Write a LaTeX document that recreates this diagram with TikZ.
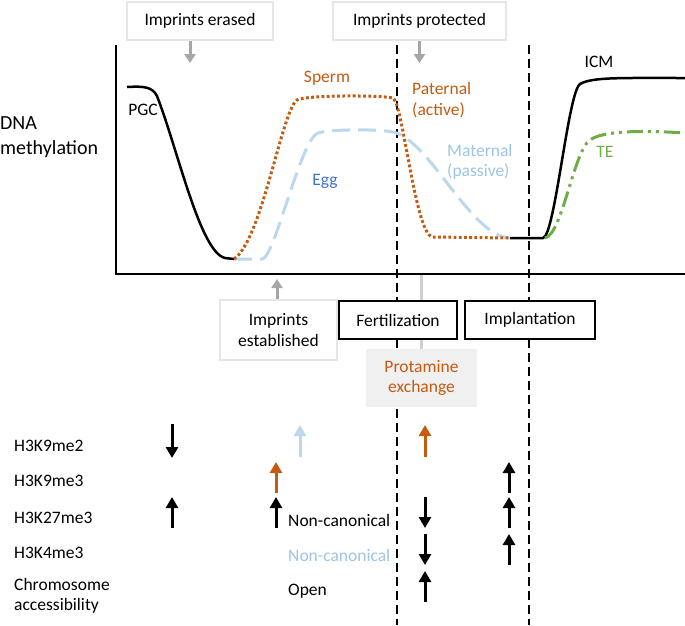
\documentclass[tikz,border=0pt]{standalone}
\usepackage{fontspec}
\setmainfont{Carlito}
\usetikzlibrary{arrows.meta,calc}
\definecolor{orng}{HTML}{C55A11}
\definecolor{lblue}{HTML}{BDD7EE}
\definecolor{mtext}{HTML}{9DC3E6}
\definecolor{eggblue}{HTML}{4472C4}
\definecolor{tegreen}{HTML}{70AD47}
\definecolor{boxgray}{HTML}{E6E6E6}
\definecolor{protfill}{HTML}{F0F0F0}
\definecolor{arrgray}{HTML}{A6A6A6}
\definecolor{linegray}{HTML}{D0D0D0}
\tikzset{
  lbl/.style={font=\fontsize{17.5}{20.5}\selectfont, inner sep=0pt},
  lightbox/.style={draw=boxgray, line width=2pt, fill=white, font=\fontsize{17.5}{20.5}\selectfont, align=center, inner sep=0pt},
  darkbox/.style={draw=black, line width=2.5pt, fill=white, font=\fontsize{17.5}{20.5}\selectfont, align=center, inner sep=0pt},
  grayarr/.style={arrgray, line width=3pt, -{Triangle[width=11pt,length=9pt]}},
  marr/.style={line width=3pt, -{Triangle[width=12pt,length=11pt]}},
  vdash/.style={line width=2.5pt, dash pattern=on 9pt off 5pt},
}
\begin{document}
\begin{tikzpicture}[x=1pt,y=-1pt]
\useasboundingbox (0,0) rectangle (685,625);
% axes
\coordinate (ytop) at (116,45);
\coordinate (orig) at (116,274);
\coordinate (xend) at (685,274);
\draw[line width=2.5pt] (ytop) -- (orig) -- (xend);
% vertical dashed lines
\coordinate (f1) at (397,45);
\coordinate (f2) at (397,625);
\coordinate (i1) at (529,45);
\coordinate (i2) at (529,625);
\draw[vdash] (f1) -- (f2);
\draw[vdash] (i1) -- (i2);
% boxes
\node[lightbox, minimum width=146pt, minimum height=38pt] (erased) at (200,21) {Imprints erased};
\node[lightbox, minimum width=173pt, minimum height=38pt] (protected) at (419.5,21) {Imprints protected};
\node[lightbox, minimum width=117pt, minimum height=60pt] (established) at (278.5,330) {Imprints\\established};
\node[fill=protfill, text=orng, minimum width=111pt, minimum height=58pt, font=\fontsize{17.5}{20.5}\selectfont, align=center, inner sep=0pt] (prot) at (421.5,378) {Protamine\\exchange};
\coordinate (protax) at (421.5,275);
\draw[linegray, line width=3pt] (protax) -- (prot.north);
\node[darkbox, minimum width=118pt, minimum height=38pt] (fert) at (398,320) {Fertilization};
\node[darkbox, minimum width=130pt, minimum height=38pt] (impl) at (530,320) {Implantation};
% gray arrows
\draw[grayarr] ([xshift=-10pt]erased.south) -- ++(0,22);
\draw[grayarr] (protected.south) -- ++(0,22);
\draw[grayarr] ([xshift=-1.5pt]established.north) -- ++(0,-20);
% curves
\draw[line width=2.5pt] (127,87) .. controls (145,86) and (152,87) .. (157,96)
  .. controls (178,150) and (200,252) .. (225,258) -- (234,259);
\draw[lblue, line width=3pt, dash pattern=on 18pt off 8pt] (234,259) -- (262,259)
  .. controls (275,258) and (300,140) .. (318,133)
  .. controls (330,129) and (380,129) .. (393,132)
  .. controls (430,140) and (470,236) .. (510,238);
\draw[orng, line width=3pt, dash pattern=on 2.8pt off 2.4pt] (234,259)
  .. controls (262,240) and (282,110) .. (297,100)
  .. controls (305,95) and (380,95) .. (393,98)
  .. controls (403,104) and (415,232) .. (432,237) -- (510,238);
\draw[line width=2.5pt] (510,238) -- (543,238)
  .. controls (555,236) and (568,92) .. (580,84)
  .. controls (592,77) and (620,78) .. (685,78);
\draw[tegreen, line width=3pt, dash pattern=on 16pt off 5pt on 3pt off 5pt on 3pt off 5pt] (545,238)
  .. controls (562,235) and (574,150) .. (590,140)
  .. controls (602,131) and (640,130) .. (685,133);
% curve labels
\node[font=\fontsize{20}{25}\selectfont, inner sep=0pt, anchor=west, align=left] (dna) at (0,137) {DNA\\methylation};
\node[lbl] (pgc) at (143,110) {PGC};
\node[lbl, text=orng] (sperm) at (327,78) {Sperm};
\node[lbl, text=eggblue] (egg) at (325,181) {Egg};
\node[lbl, text=orng, anchor=west, align=left] (pat) at (412,100) {Paternal\\(active)};
\node[lbl, text=mtext, anchor=west, align=left] (mat) at (447,162) {Maternal\\(passive)};
\node[lbl] (icm) at (599,62) {ICM};
\node[lbl, text=tegreen] (te) at (605,152) {TE};
% row labels
\node[lbl, anchor=west] (r1) at (14,446) {H3K9me2};
\node[lbl, anchor=west] (r2) at (14,481) {H3K9me3};
\node[lbl, anchor=west] (r3) at (14,518) {H3K27me3};
\node[lbl, anchor=west] (r4) at (14,553) {H3K4me3};
\node[lbl, anchor=west, align=left] (r5) at (14,596) {Chromosome\\accessibility};
\node[lbl, anchor=west] (nc1) at (288,520) {Non-canonical};
\node[lbl, anchor=west, text=mtext] (nc2) at (288,555) {Non-canonical};
\node[lbl, anchor=west] (open) at (288,591) {Open};
% marker arrows
\draw[marr] (172,424) -- (172,458);
\draw[marr] (172,528) -- (172,497);
\draw[marr, lblue] (300,457) -- (300,425);
\draw[marr, orng] (276,493) -- (276,462);
\draw[marr] (276,528) -- (276,497);
\draw[marr, orng] (425,457) -- (425,425);
\draw[marr] (425,497) -- (425,528);
\draw[marr] (425,534) -- (425,565);
\draw[marr] (425,602) -- (425,571);
\draw[marr] (509,493) -- (509,462);
\draw[marr] (509,528) -- (509,497);
\draw[marr] (509,565) -- (509,534);
\end{tikzpicture}
\end{document}
